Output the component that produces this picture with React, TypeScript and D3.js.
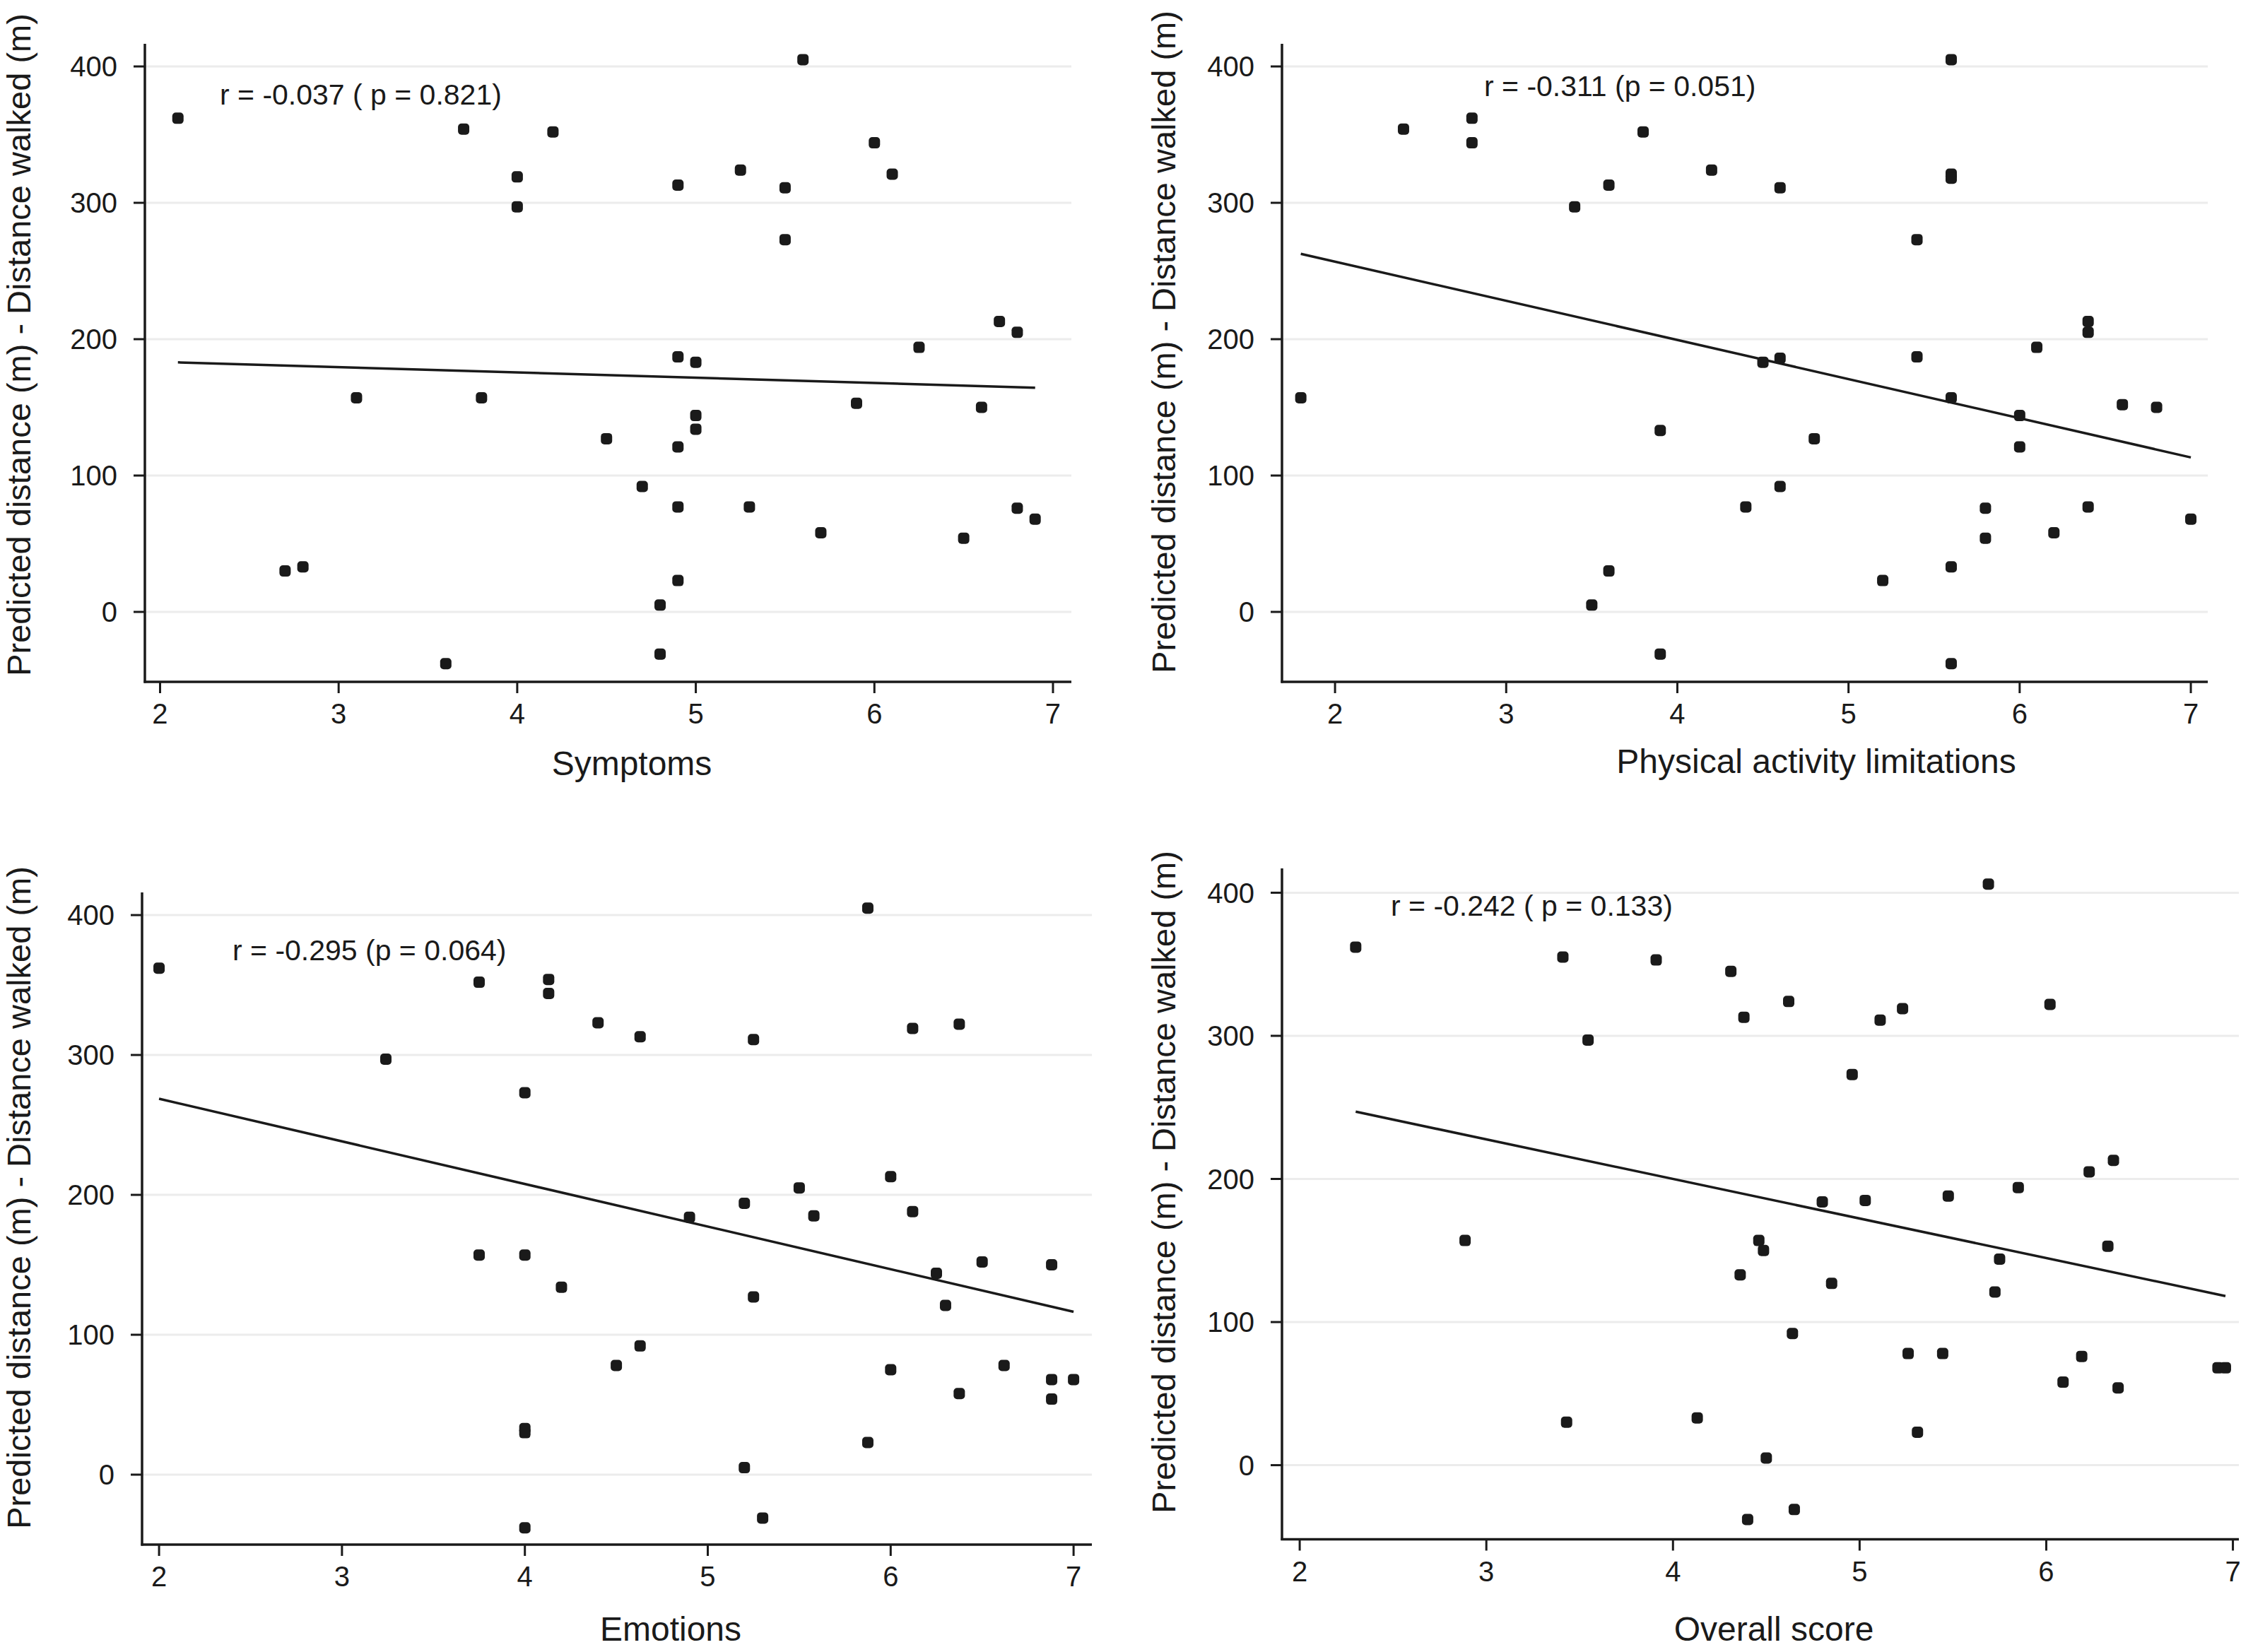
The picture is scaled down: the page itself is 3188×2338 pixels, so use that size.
import React from "react";
import * as d3 from "d3";

// ---------- data ----------
const yTicks = [0, 100, 200, 300, 400];
const xTicks = [2, 3, 4, 5, 6, 7];

const symptomsX = [2.1, 3.7, 4.2, 4.0, 4.0, 4.9, 5.25, 5.5, 5.5, 5.6, 6.0, 6.1, 6.25, 6.7, 6.8, 4.9, 5.0, 3.1, 3.8, 5.9, 6.6, 5.0, 5.0, 4.5, 4.9, 4.7, 4.9, 5.3, 5.7, 6.5, 6.8, 6.9, 2.7, 2.8, 4.9, 4.8, 3.6, 4.8];
const symptomsY = [362, 354, 352, 319, 297, 313, 324, 311, 273, 405, 344, 321, 194, 213, 205, 187, 183, 157, 157, 153, 150, 144, 134, 127, 121, 92, 77, 77, 58, 54, 76, 68, 30, 33, 23, 5, -38, -31];

const physicalX = [1.8, 2.4, 2.8, 2.8, 3.8, 4.2, 3.6, 3.4, 4.6, 5.6, 5.6, 5.6, 5.4, 6.4, 6.4, 6.1, 5.4, 4.5, 4.6, 5.6, 6.6, 6.8, 6.0, 6.0, 3.9, 4.8, 4.6, 4.4, 5.8, 6.4, 7.0, 6.2, 5.8, 3.6, 5.6, 5.2, 3.5, 3.9, 5.6];
const physicalY = [157, 354, 362, 344, 352, 324, 313, 297, 311, 405, 321, 318, 273, 213, 205, 194, 187, 183, 186, 157, 152, 150, 144, 121, 133, 127, 92, 77, 76, 77, 68, 58, 54, 30, 33, 23, 5, -31, -38];

const emotionsX = [2.0, 3.75, 4.13, 4.13, 4.4, 4.63, 5.25, 3.24, 4.0, 5.875, 6.12, 6.375, 6.0, 5.5, 5.2, 5.58, 4.9, 6.12, 3.75, 4.0, 6.5, 6.88, 6.25, 4.2, 5.25, 6.3, 4.63, 4.5, 6.0, 6.62, 6.88, 7.0, 6.375, 6.88, 4.0, 4.0, 5.875, 5.2, 5.3, 4.0];
const emotionsY = [362, 352, 354, 344, 323, 313, 311, 297, 273, 405, 319, 322, 213, 205, 194, 185, 184, 188, 157, 157, 152, 150, 144, 134, 127, 121, 92, 78, 75, 78, 68, 68, 58, 54, 33, 30, 23, 5, -31, -38];

const overallX = [2.3, 3.41, 3.91, 4.31, 3.545, 4.38, 4.62, 5.11, 5.23, 5.69, 6.02, 4.96, 6.36, 6.23, 5.85, 5.475, 5.03, 4.8, 2.886, 4.46, 4.485, 6.33, 5.75, 4.36, 4.85, 5.725, 4.64, 5.26, 5.445, 6.19, 6.92, 6.96, 6.09, 6.385, 3.43, 4.13, 5.31, 4.5, 4.65, 4.4];
const overallY = [362, 355, 353, 345, 297, 313, 324, 311, 319, 406, 322, 273, 213, 205, 194, 188, 185, 184, 157, 157, 150, 153, 144, 133, 127, 121, 92, 78, 78, 76, 68, 68, 58, 54, 30, 33, 23, 5, -31, -38];

// fitted line end points [x0, y0, x1, y1]
const symptomsFit = [2.1, 183, 6.9, 164.4];
const physicalFit = [1.8, 262.6, 7.0, 113.3];
const emotionsFit = [2.0, 268.7, 7.0, 116.4];
const overallFit = [2.3, 247, 6.96, 118.2];

const xTitles = ["Symptoms", "Physical activity limitations", "Emotions", "Overall score"];
const annotations = [
  "r = -0.037 ( p = 0.821)",
  "r = -0.311 (p = 0.051)",
  "r = -0.295 (p = 0.064)",
  "r = -0.242 ( p = 0.133)",
];
const yTitle = "Predicted distance (m) - Distance walked (m)";

// ---------- layout ----------
const FONT = "'Liberation Sans', Arial, Helvetica, sans-serif";

type PanelCfg = {
  left: number; right: number; top: number; bottom: number;
  xDomain: [number, number]; yDomain: [number, number];
  xs: number[]; ys: number[]; fit: number[];
  xTitle: string; xTitleX: number; xTitleY: number;
  ann: string; annX: number; annY: number;
  yTitleX: number; yTitleY: number;
};

const panels: PanelCfg[] = [
  {
    left: 205, right: 1516, top: 62, bottom: 965,
    xDomain: [1.915, 7.103], yDomain: [-51.3, 416.6],
    xs: symptomsX, ys: symptomsY, fit: symptomsFit,
    xTitle: xTitles[0], xTitleX: 894, xTitleY: 1097,
    ann: annotations[0], annX: 311, annY: 148,
    yTitleX: 43, yTitleY: 488,
  },
  {
    left: 1814, right: 3124, top: 62, bottom: 965,
    xDomain: [1.69, 7.099], yDomain: [-51.3, 416.6],
    xs: physicalX, ys: physicalY, fit: physicalFit,
    xTitle: xTitles[1], xTitleX: 2570, xTitleY: 1094,
    ann: annotations[1], annX: 2100, annY: 136,
    yTitleX: 1663, yTitleY: 484,
  },
  {
    left: 201, right: 1545, top: 1263, bottom: 2186,
    xDomain: [1.907, 7.1], yDomain: [-50, 416.2],
    xs: emotionsX, ys: emotionsY, fit: emotionsFit,
    xTitle: xTitles[2], xTitleX: 949, xTitleY: 2322,
    ann: annotations[2], annX: 329, annY: 1359,
    yTitleX: 43, yTitleY: 1695,
  },
  {
    left: 1814, right: 3168, top: 1229, bottom: 2178.5,
    xDomain: [1.905, 7.032], yDomain: [-51.8, 417],
    xs: overallX, ys: overallY, fit: overallFit,
    xTitle: xTitles[3], xTitleX: 2510, xTitleY: 2322,
    ann: annotations[3], annX: 1968, annY: 1296,
    yTitleX: 1663, yTitleY: 1673,
  },
];

function Panel({ p }: { p: PanelCfg }) {
  const x = d3.scaleLinear().domain(p.xDomain).range([p.left, p.right]);
  const y = d3.scaleLinear().domain(p.yDomain).range([p.bottom, p.top]);
  const line = d3.line<[number, number]>().x((d) => x(d[0])).y((d) => y(d[1]));
  const fitPts: [number, number][] = [[p.fit[0], p.fit[1]], [p.fit[2], p.fit[3]]];
  const ink = "#1a1a1a";
  return (
    <g>
      {yTicks.map((t) => (
        <line key={"g" + t} x1={p.left} x2={p.right} y1={y(t)} y2={y(t)} stroke="#ececec" strokeWidth={3} />
      ))}
      {/* axes */}
      <line x1={p.left} x2={p.left} y1={p.top} y2={p.bottom + 1.5} stroke={ink} strokeWidth={3.5} />
      <line x1={p.left - 1.5} x2={p.right} y1={p.bottom} y2={p.bottom} stroke={ink} strokeWidth={3.5} />
      {yTicks.map((t) => (
        <g key={"y" + t}>
          <line x1={p.left - 16} x2={p.left} y1={y(t)} y2={y(t)} stroke={ink} strokeWidth={3} />
          <text x={p.left - 39} y={y(t)} dy="0.36em" textAnchor="end" fontSize={40} fontFamily={FONT} fill={ink}>
            {t}
          </text>
        </g>
      ))}
      {xTicks.map((t) => (
        <g key={"x" + t}>
          <line x1={x(t)} x2={x(t)} y1={p.bottom} y2={p.bottom + 16} stroke={ink} strokeWidth={3} />
          <text x={x(t)} y={p.bottom + 59} textAnchor="middle" fontSize={40} fontFamily={FONT} fill={ink}>
            {t}
          </text>
        </g>
      ))}
      {/* fit line */}
      <path d={line(fitPts) || ""} stroke={ink} strokeWidth={3.5} fill="none" />
      {/* points */}
      {p.xs.map((xv, i) => (
        <rect key={"p" + i} x={x(xv) - 8} y={y(p.ys[i]) - 8} width={16} height={16} rx={5} ry={5} fill={ink} />
      ))}
      <text x={p.annX} y={p.annY} fontSize={41} fontFamily={FONT} fill={ink}>
        {p.ann}
      </text>
      <text x={p.xTitleX} y={p.xTitleY} textAnchor="middle" fontSize={48} fontFamily={FONT} fill={ink}>
        {p.xTitle}
      </text>
      <text
        transform={`translate(${p.yTitleX},${p.yTitleY}) rotate(-90)`}
        textAnchor="middle"
        fontSize={47}
        fontFamily={FONT}
        fill={ink}
      >
        {yTitle}
      </text>
    </g>
  );
}

export default function App() {
  return (
    <svg
      width={3188}
      height={2338}
      viewBox="0 0 3188 2338"
      style={{ position: "absolute", left: 0, top: 0, background: "#fff" }}
    >
      <rect x={0} y={0} width={3188} height={2338} fill="#fff" />
      {panels.map((p, i) => (
        <Panel key={i} p={p} />
      ))}
    </svg>
  );
}
